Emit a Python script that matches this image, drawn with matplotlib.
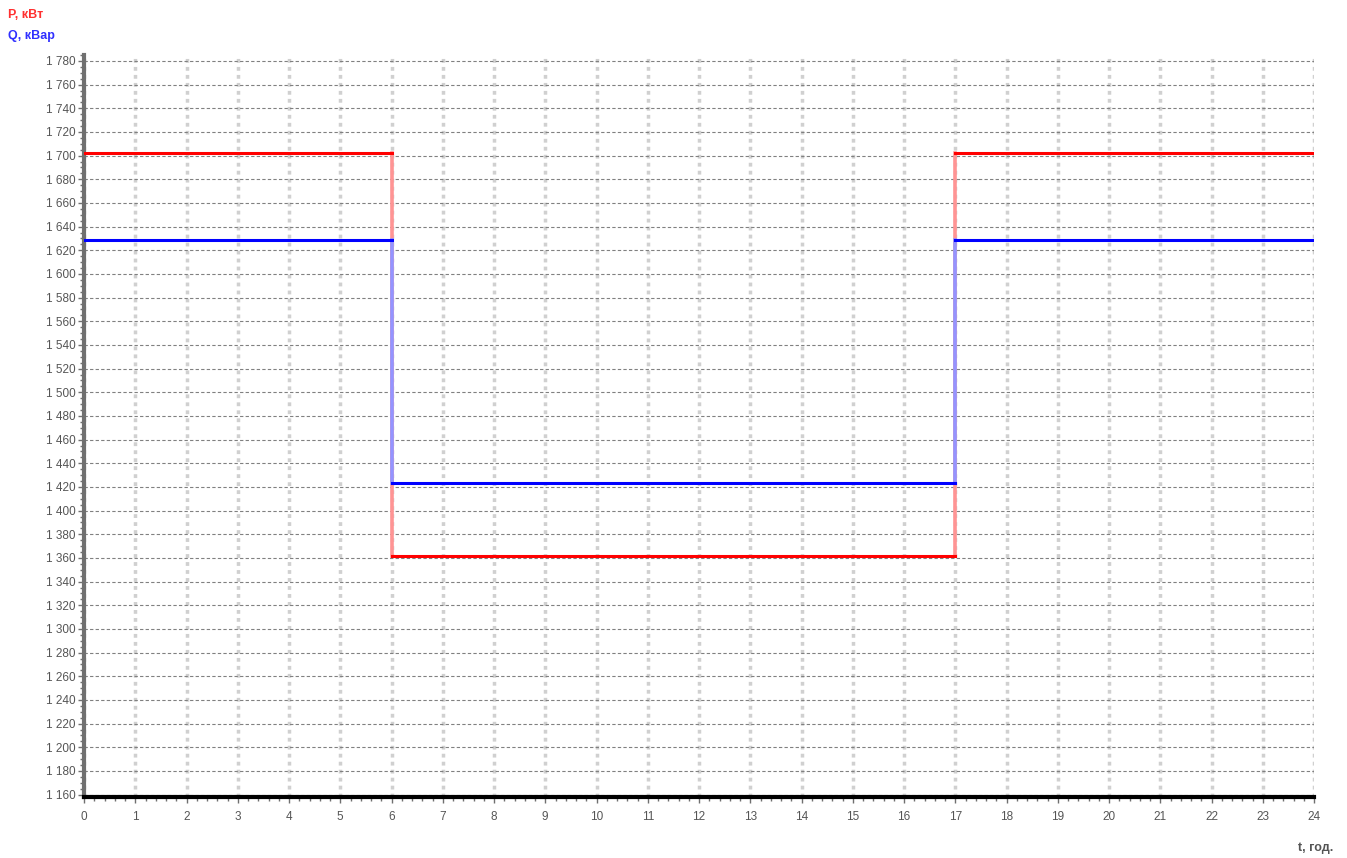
import numpy as np
import matplotlib
matplotlib.use('Agg')
import matplotlib.pyplot as plt
from matplotlib.ticker import MultipleLocator, FuncFormatter

# графік навантаження за добу
hours = [0, 6, 17, 24]
p_vals = [1702, 1362, 1702]   # P, кВт
q_vals = [1629, 1423, 1629]   # Q, кВар

plt.rcParams['font.family'] = ['Liberation Sans', 'DejaVu Sans']

fig = plt.figure(figsize=(13.47, 8.58), dpi=100)
ax = fig.add_axes([84 / 1347, 1 - 797 / 858, 1230 / 1347, 742 / 858])

def draw_steps(vals, color, light, z):
    # вертикальні переходи світлішим кольором
    for i in range(1, len(vals)):
        ax.plot([hours[i], hours[i]], [vals[i - 1], vals[i]], color=light, lw=2.6, zorder=z)
    for i, v in enumerate(vals):
        ax.plot([hours[i], hours[i + 1]], [v, v], color=color, lw=2.2, zorder=z + 2)

draw_steps(p_vals, '#ff0000', '#ff9494', 3)
draw_steps(q_vals, '#0000ff', '#9494ff', 4)

ax.set_xlim(0, 24)
ax.set_ylim(1158, 1785)
ax.xaxis.set_major_locator(MultipleLocator(1))
ax.xaxis.set_minor_locator(MultipleLocator(0.2))
ax.yaxis.set_major_locator(MultipleLocator(20))
ax.yaxis.set_minor_locator(MultipleLocator(5))
ax.yaxis.set_major_formatter(FuncFormatter(lambda v, p: f'{int(v):,}'.replace(',', ' ')))

ax.grid(True, axis='y', which='major', color='#808080', ls=(0, (3, 2)), lw=0.8)
ax.grid(True, axis='x', which='major', color='#d0d0d0', ls=(0, (1.1, 1.2)), lw=2.5)

for s in ['top', 'right']:
    ax.spines[s].set_visible(False)
ax.spines['left'].set_color('#707070')
ax.spines['left'].set_linewidth(3)
ax.spines['bottom'].set_color('black')
ax.spines['bottom'].set_linewidth(3)

ax.tick_params(axis='both', which='major', labelsize=8.5, labelcolor='#555555', length=4, width=1, color='#707070')
ax.tick_params(axis='both', which='minor', length=3, width=1, color='#707070')
ax.tick_params(axis='x', pad=6)
ax.tick_params(axis='y', pad=2)

fig.text(8 / 1347, 1 - 15 / 858, 'P, кВт', color='#ff3030', fontsize=9, fontweight='bold', va='center')
fig.text(8 / 1347, 1 - 36 / 858, 'Q, кВар', color='#3030ff', fontsize=9, fontweight='bold', va='center')
fig.text(1298 / 1347, 1 - 848 / 858, 't, год.', color='#555555', fontsize=9, fontweight='bold', va='center')

fig.savefig('out.png', dpi=100)
